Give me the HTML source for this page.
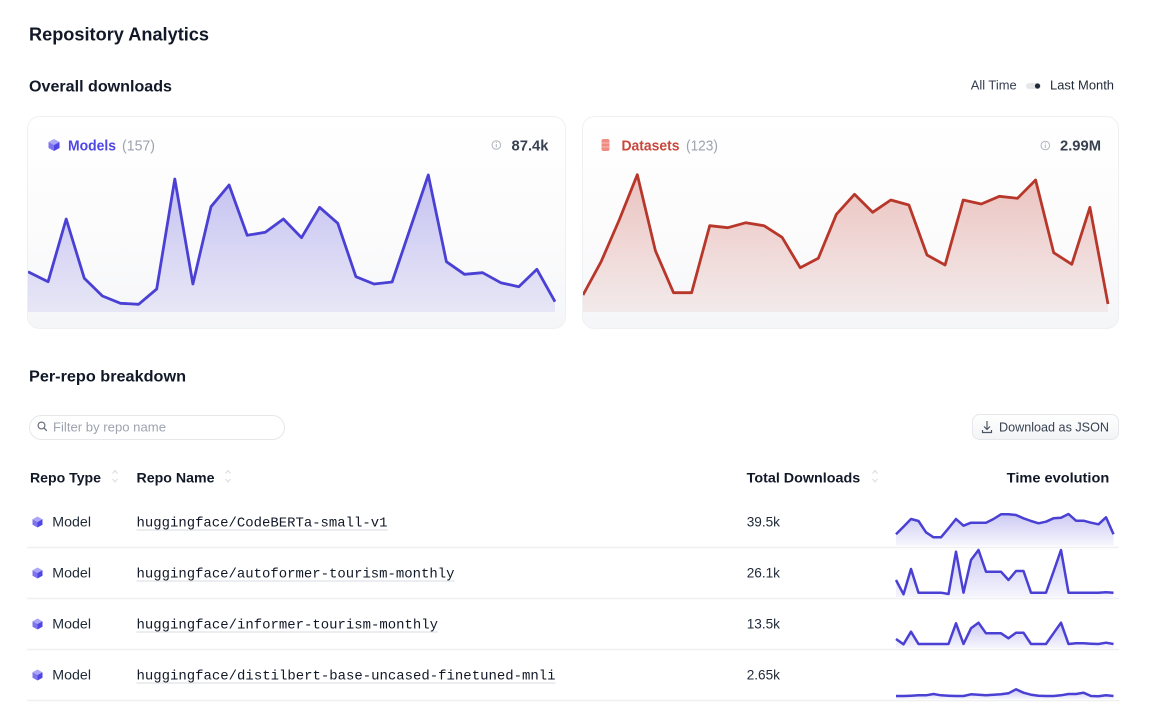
<!DOCTYPE html>
<html>
<head>
<meta charset="utf-8">
<style>
html,body{margin:0;padding:0;background:#fff;}
body{width:1152px;height:709px;overflow:hidden;}
svg{display:block;}
text{font-family:"Liberation Sans",sans-serif;}
.mono{font-family:"Liberation Mono",monospace;}
</style>
</head>
<body>
<svg width="1152" height="709" viewBox="0 0 1152 709" xmlns="http://www.w3.org/2000/svg">
<defs>
  <linearGradient id="cardbg" x1="0" y1="0" x2="0" y2="1">
    <stop offset="0" stop-color="#ffffff"/>
    <stop offset="0.6" stop-color="#fbfbfc"/>
    <stop offset="1" stop-color="#f5f6f8"/>
  </linearGradient>
  <linearGradient id="mfill" x1="0" y1="175" x2="0" y2="312" gradientUnits="userSpaceOnUse">
    <stop offset="0" stop-color="#4a40d4" stop-opacity="0.32"/>
    <stop offset="1" stop-color="#4a40d4" stop-opacity="0.09"/>
  </linearGradient>
  <linearGradient id="dfill" x1="0" y1="175" x2="0" y2="312" gradientUnits="userSpaceOnUse">
    <stop offset="0" stop-color="#bd3a2e" stop-opacity="0.30"/>
    <stop offset="1" stop-color="#bd3a2e" stop-opacity="0.07"/>
  </linearGradient>
  <linearGradient id="sfill" x1="0" y1="0" x2="0" y2="1">
    <stop offset="0" stop-color="#4a40d4" stop-opacity="0.28"/>
    <stop offset="1" stop-color="#4a40d4" stop-opacity="0.05"/>
  </linearGradient>
  <linearGradient id="btnbg" x1="0" y1="0" x2="0" y2="1">
    <stop offset="0" stop-color="#ffffff"/>
    <stop offset="1" stop-color="#f3f4f6"/>
  </linearGradient>
  <clipPath id="mclip"><rect x="28" y="117" width="537" height="211" rx="12"/></clipPath>
  <clipPath id="dclip"><rect x="583" y="117" width="535" height="211" rx="12"/></clipPath>
</defs>

<!-- Titles -->
<text x="29" y="40.5" font-size="18" font-weight="bold" fill="#111827" textLength="180" lengthAdjust="spacingAndGlyphs">Repository Analytics</text>
<text x="29" y="91.5" font-size="16" font-weight="bold" fill="#111827" textLength="143" lengthAdjust="spacingAndGlyphs">Overall downloads</text>

<!-- Toggle -->
<text x="970.7" y="89.5" font-size="13" fill="#374151" textLength="46" lengthAdjust="spacingAndGlyphs">All Time</text>
<rect x="1026" y="83" width="15" height="6" rx="3" fill="#e5e7eb"/>
<circle cx="1037.5" cy="86" r="2.6" fill="#1f2937"/>
<text x="1050" y="89.5" font-size="13" fill="#1f2937" textLength="64" lengthAdjust="spacingAndGlyphs">Last Month</text>

<!-- Models card -->
<rect x="27.5" y="116.5" width="538" height="212" rx="12" fill="url(#cardbg)" stroke="#eef0f3"/>
<g clip-path="url(#mclip)">
  <polygon fill="url(#mfill)" points="28,272.7 30,272.7 48.1,281.7 66.2,219 84.3,278.3 102.4,296 120.5,303.3 138.6,304.3 156.7,289 174.8,179 192.9,284 211,206.7 229.1,185 247.2,235.3 265.3,232.3 283.4,219 301.5,237.7 319.6,207.3 337.8,223.3 355.9,276.7 374,284 392.1,282 410.2,228.5 428.3,175 446.4,261.7 464.5,274.3 482.6,272.7 500.7,282.7 518.8,286.7 536.9,269.3 555,301.7 555,312 28,312"/>
  <polyline fill="none" stroke="#4a40d4" stroke-width="2.8" stroke-linejoin="round" points="28,271.7 30,272.7 48.1,281.7 66.2,219 84.3,278.3 102.4,296 120.5,303.3 138.6,304.3 156.7,289 174.8,179 192.9,284 211,206.7 229.1,185 247.2,235.3 265.3,232.3 283.4,219 301.5,237.7 319.6,207.3 337.8,223.3 355.9,276.7 374,284 392.1,282 410.2,228.5 428.3,175 446.4,261.7 464.5,274.3 482.6,272.7 500.7,282.7 518.8,286.7 536.9,269.3 555,301.7"/>
</g>
<!-- cube icon -->
<polygon points="54,139 59.5,142 54,145 48.5,142" fill="#aba6f5"/>
<polygon points="48.5,142 54,145 54,151 48.5,148" fill="#7d74ee"/>
<polygon points="54,145 59.5,142 59.5,148 54,151" fill="#4f46e5"/>
<text x="68" y="150.5" font-size="15" font-weight="bold" fill="#4f46e5" textLength="48" lengthAdjust="spacingAndGlyphs">Models</text>
<text x="122" y="150.5" font-size="15" fill="#9ca3af" textLength="33" lengthAdjust="spacingAndGlyphs">(157)</text>
<circle cx="496.3" cy="145" r="4.3" fill="none" stroke="#b0b5bd" stroke-width="1"/>
<line x1="496.3" y1="144" x2="496.3" y2="147.5" stroke="#b0b5bd" stroke-width="1"/>
<circle cx="496.3" cy="142.4" r="0.6" fill="#b0b5bd"/>
<text x="511.5" y="150.5" font-size="15" font-weight="bold" fill="#374151" textLength="37" lengthAdjust="spacingAndGlyphs">87.4k</text>

<!-- Datasets card -->
<rect x="582.5" y="116.5" width="536" height="212" rx="12" fill="url(#cardbg)" stroke="#eef0f3"/>
<g clip-path="url(#dclip)">
  <polygon fill="url(#dfill)" points="583,295 601.1,261.7 619.2,220 637.3,174.7 655.4,250.7 673.5,292.7 691.6,292.7 709.7,225.7 727.8,227.7 745.9,222.7 764,225.7 782.1,237.3 800.2,267.7 818.3,258.3 836.4,214.3 854.5,194.3 872.6,212.3 890.8,200 908.9,205 927,255 945.1,265 963.2,200 981.3,204 999.4,196.3 1017.5,198.3 1035.6,180 1053.7,252.7 1071.8,264.3 1089.9,207.3 1108,304 1108,312 583,312"/>
  <polyline fill="none" stroke="#b8372b" stroke-width="2.8" stroke-linejoin="round" points="583,295 601.1,261.7 619.2,220 637.3,174.7 655.4,250.7 673.5,292.7 691.6,292.7 709.7,225.7 727.8,227.7 745.9,222.7 764,225.7 782.1,237.3 800.2,267.7 818.3,258.3 836.4,214.3 854.5,194.3 872.6,212.3 890.8,200 908.9,205 927,255 945.1,265 963.2,200 981.3,204 999.4,196.3 1017.5,198.3 1035.6,180 1053.7,252.7 1071.8,264.3 1089.9,207.3 1108,304"/>
</g>
<!-- db icon -->
<rect x="601.5" y="139" width="8" height="12" rx="2" fill="#ee8c83"/>
<line x1="601.5" y1="143" x2="609.5" y2="143" stroke="#f8c9c4" stroke-width="0.8"/>
<line x1="601.5" y1="147" x2="609.5" y2="147" stroke="#f8c9c4" stroke-width="0.8"/>
<text x="621.5" y="150.5" font-size="15" font-weight="bold" fill="#c9473b" textLength="58" lengthAdjust="spacingAndGlyphs">Datasets</text>
<text x="686" y="150.5" font-size="15" fill="#9ca3af" textLength="32" lengthAdjust="spacingAndGlyphs">(123)</text>
<circle cx="1045.3" cy="145.5" r="4.3" fill="none" stroke="#b0b5bd" stroke-width="1"/>
<line x1="1045.3" y1="144.5" x2="1045.3" y2="148" stroke="#b0b5bd" stroke-width="1"/>
<circle cx="1045.3" cy="142.9" r="0.6" fill="#b0b5bd"/>
<text x="1060" y="150.5" font-size="15" font-weight="bold" fill="#374151" textLength="41" lengthAdjust="spacingAndGlyphs">2.99M</text>

<!-- Per-repo breakdown -->
<text x="29" y="381.5" font-size="16" font-weight="bold" fill="#111827" textLength="157" lengthAdjust="spacingAndGlyphs">Per-repo breakdown</text>

<!-- Search box -->
<rect x="29.5" y="415.5" width="255" height="24" rx="12" fill="#fff" stroke="#e5e7eb"/>
<circle cx="41.5" cy="425.5" r="3.4" fill="none" stroke="#6b7280" stroke-width="1.2"/>
<line x1="44" y1="428" x2="46.5" y2="430.5" stroke="#6b7280" stroke-width="1.3" stroke-linecap="round"/>
<text x="53" y="431.5" font-size="13" fill="#9ca3af" textLength="113" lengthAdjust="spacingAndGlyphs">Filter by repo name</text>

<!-- Download button -->
<rect x="972.5" y="414.5" width="146" height="25" rx="7" fill="url(#btnbg)" stroke="#e5e7eb"/>
<line x1="987" y1="421" x2="987" y2="429" stroke="#4b5563" stroke-width="1.2"/>
<polyline points="984,426.5 987,429.5 990,426.5" fill="none" stroke="#4b5563" stroke-width="1.2"/>
<polyline points="982.5,430 982.5,432.5 991.5,432.5 991.5,430" fill="none" stroke="#4b5563" stroke-width="1.2"/>
<text x="999" y="431.5" font-size="13" fill="#374151" textLength="110" lengthAdjust="spacingAndGlyphs">Download as JSON</text>

<!-- Table header -->
<text x="30" y="482.5" font-size="14" font-weight="bold" fill="#111827" textLength="71" lengthAdjust="spacingAndGlyphs">Repo Type</text>
<polyline points="112.5,473.5 115,470.5 117.5,473.5" fill="none" stroke="#d9dce1" stroke-width="1"/>
<polyline points="112.5,479 115,482 117.5,479" fill="none" stroke="#d9dce1" stroke-width="1"/>
<text x="136.5" y="482.5" font-size="14" font-weight="bold" fill="#111827" textLength="78" lengthAdjust="spacingAndGlyphs">Repo Name</text>
<polyline points="225.5,473.5 228,470.5 230.5,473.5" fill="none" stroke="#d9dce1" stroke-width="1"/>
<polyline points="225.5,479 228,482 230.5,479" fill="none" stroke="#d9dce1" stroke-width="1"/>
<text x="746.7" y="482.5" font-size="14" font-weight="bold" fill="#111827" textLength="113.5" lengthAdjust="spacingAndGlyphs">Total Downloads</text>
<polyline points="872.5,473.5 875,470.5 877.5,473.5" fill="none" stroke="#d9dce1" stroke-width="1"/>
<polyline points="872.5,479 875,482 877.5,479" fill="none" stroke="#d9dce1" stroke-width="1"/>
<text x="1006.7" y="482.5" font-size="14" font-weight="bold" fill="#111827" textLength="102.6" lengthAdjust="spacingAndGlyphs">Time evolution</text>

<!-- Row separators -->
<line x1="27" y1="547.5" x2="1119" y2="547.5" stroke="#eff0f2" stroke-width="1.5"/>
<line x1="27" y1="598.5" x2="1119" y2="598.5" stroke="#eff0f2" stroke-width="1.5"/>
<line x1="27" y1="649.5" x2="1119" y2="649.5" stroke="#eff0f2" stroke-width="1.5"/>
<line x1="27" y1="700.5" x2="1119" y2="700.5" stroke="#eff0f2" stroke-width="1.5"/>

<!-- Row cube icons -->
<g>
<polygon points="37.5,516.5 42.5,519.2 37.5,522 32.5,519.2" fill="#aba6f5"/>
<polygon points="32.5,519.2 37.5,522 37.5,527.5 32.5,524.8" fill="#7d74ee"/>
<polygon points="37.5,522 42.5,519.2 42.5,524.8 37.5,527.5" fill="#4f46e5"/>
</g>
<g transform="translate(0,51)">
<polygon points="37.5,516.5 42.5,519.2 37.5,522 32.5,519.2" fill="#aba6f5"/>
<polygon points="32.5,519.2 37.5,522 37.5,527.5 32.5,524.8" fill="#7d74ee"/>
<polygon points="37.5,522 42.5,519.2 42.5,524.8 37.5,527.5" fill="#4f46e5"/>
</g>
<g transform="translate(0,102)">
<polygon points="37.5,516.5 42.5,519.2 37.5,522 32.5,519.2" fill="#aba6f5"/>
<polygon points="32.5,519.2 37.5,522 37.5,527.5 32.5,524.8" fill="#7d74ee"/>
<polygon points="37.5,522 42.5,519.2 42.5,524.8 37.5,527.5" fill="#4f46e5"/>
</g>
<g transform="translate(0,153)">
<polygon points="37.5,516.5 42.5,519.2 37.5,522 32.5,519.2" fill="#aba6f5"/>
<polygon points="32.5,519.2 37.5,522 37.5,527.5 32.5,524.8" fill="#7d74ee"/>
<polygon points="37.5,522 42.5,519.2 42.5,524.8 37.5,527.5" fill="#4f46e5"/>
</g>

<!-- Row texts -->
<text x="52.3" y="526.5" font-size="14" fill="#1f2937" textLength="38.7" lengthAdjust="spacingAndGlyphs">Model</text>
<text x="52.3" y="577.5" font-size="14" fill="#1f2937" textLength="38.7" lengthAdjust="spacingAndGlyphs">Model</text>
<text x="52.3" y="628.5" font-size="14" fill="#1f2937" textLength="38.7" lengthAdjust="spacingAndGlyphs">Model</text>
<text x="52.3" y="679.5" font-size="14" fill="#1f2937" textLength="38.7" lengthAdjust="spacingAndGlyphs">Model</text>

<text class="mono" x="136.5" y="526.5" font-size="14" fill="#111827" textLength="251" lengthAdjust="spacingAndGlyphs">huggingface/CodeBERTa-small-v1</text>
<line x1="136.5" y1="530" x2="387.5" y2="530" stroke="#d8dbe0" stroke-width="1"/>
<text class="mono" x="136.5" y="577.5" font-size="14" fill="#111827" textLength="318" lengthAdjust="spacingAndGlyphs">huggingface/autoformer-tourism-monthly</text>
<line x1="136.5" y1="581" x2="454.5" y2="581" stroke="#d8dbe0" stroke-width="1"/>
<text class="mono" x="136.5" y="628.5" font-size="14" fill="#111827" textLength="301.5" lengthAdjust="spacingAndGlyphs">huggingface/informer-tourism-monthly</text>
<line x1="136.5" y1="632" x2="438" y2="632" stroke="#d8dbe0" stroke-width="1"/>
<text class="mono" x="136.5" y="679.5" font-size="14" fill="#111827" textLength="419" lengthAdjust="spacingAndGlyphs">huggingface/distilbert-base-uncased-finetuned-mnli</text>
<line x1="136.5" y1="683" x2="555.5" y2="683" stroke="#d8dbe0" stroke-width="1"/>

<text x="746.7" y="526.5" font-size="14" fill="#1f2937" textLength="33.3" lengthAdjust="spacingAndGlyphs">39.5k</text>
<text x="746.7" y="577.5" font-size="14" fill="#1f2937" textLength="33.3" lengthAdjust="spacingAndGlyphs">26.1k</text>
<text x="746.7" y="628.5" font-size="14" fill="#1f2937" textLength="33.3" lengthAdjust="spacingAndGlyphs">13.5k</text>
<text x="746.7" y="679.5" font-size="14" fill="#1f2937" textLength="33.3" lengthAdjust="spacingAndGlyphs">2.65k</text>

<!-- Sparklines -->
<polygon fill="url(#sfill)" points="896,534.3 903.5,526.7 911,519 918.5,521 926,532.3 933.5,537.3 941,537.3 948.5,528.3 956,519 963.5,525.7 971,522.7 978.5,522.7 986,522.7 993.5,519 1001,514.3 1008.5,514.3 1016,515 1023.5,518.3 1031,521 1038.5,523.3 1046,521.7 1053.5,518.3 1061,517.7 1068.5,514 1076,520.7 1083.5,520.7 1091,522.7 1098.5,524.3 1106,517.3 1113.5,534.3 1113.5,545.5 896,545.5"/>
<polyline fill="none" stroke="#4a40d4" stroke-width="2.5" stroke-linejoin="round" points="896,534.3 903.5,526.7 911,519 918.5,521 926,532.3 933.5,537.3 941,537.3 948.5,528.3 956,519 963.5,525.7 971,522.7 978.5,522.7 986,522.7 993.5,519 1001,514.3 1008.5,514.3 1016,515 1023.5,518.3 1031,521 1038.5,523.3 1046,521.7 1053.5,518.3 1061,517.7 1068.5,514 1076,520.7 1083.5,520.7 1091,522.7 1098.5,524.3 1106,517.3 1113.5,534.3"/>

<polygon fill="url(#sfill)" points="896,580 903.5,594.3 911,569 918.5,592.7 926,592.7 933.5,592.7 941,592.7 948.5,594 956,551.7 963.5,592.7 971,560 978.5,550 986,571.7 993.5,571.7 1001,571.7 1008.5,580 1016,571 1023.5,571 1031,592.7 1038.5,592.7 1046,592.7 1053.5,571.7 1061,550 1068.5,592.7 1076,592.7 1083.5,592.7 1091,592.7 1098.5,592.7 1106,592.3 1113.5,592.7 1113.5,597 896,597"/>
<polyline fill="none" stroke="#4a40d4" stroke-width="2.5" stroke-linejoin="round" points="896,580 903.5,594.3 911,569 918.5,592.7 926,592.7 933.5,592.7 941,592.7 948.5,594 956,551.7 963.5,592.7 971,560 978.5,550 986,571.7 993.5,571.7 1001,571.7 1008.5,580 1016,571 1023.5,571 1031,592.7 1038.5,592.7 1046,592.7 1053.5,571.7 1061,550 1068.5,592.7 1076,592.7 1083.5,592.7 1091,592.7 1098.5,592.7 1106,592.3 1113.5,592.7"/>

<polygon fill="url(#sfill)" points="896,639 903.5,644.3 911,631.7 918.5,644 926,644 933.5,644 941,644 948.5,644 956,623.3 963.5,644 971,628.3 978.5,622.7 986,633.3 993.5,633.3 1001,633.3 1008.5,638.3 1016,632.7 1023.5,632.7 1031,644 1038.5,644 1046,644 1053.5,633.3 1061,622.7 1068.5,644 1076,643.3 1083.5,643.3 1091,643.7 1098.5,644 1106,642.7 1113.5,644 1113.5,648 896,648"/>
<polyline fill="none" stroke="#4a40d4" stroke-width="2.5" stroke-linejoin="round" points="896,639 903.5,644.3 911,631.7 918.5,644 926,644 933.5,644 941,644 948.5,644 956,623.3 963.5,644 971,628.3 978.5,622.7 986,633.3 993.5,633.3 1001,633.3 1008.5,638.3 1016,632.7 1023.5,632.7 1031,644 1038.5,644 1046,644 1053.5,633.3 1061,622.7 1068.5,644 1076,643.3 1083.5,643.3 1091,643.7 1098.5,644 1106,642.7 1113.5,644"/>

<polygon fill="url(#sfill)" points="896,696 903.5,696 911,695.7 918.5,695.3 926,695.3 933.5,694 941,695.3 948.5,695.7 956,696 963.5,696 971,694.3 978.5,694.7 986,695.3 993.5,694.7 1001,694.3 1008.5,693.3 1016,689.3 1023.5,692.7 1031,694.7 1038.5,695.7 1046,696 1053.5,696 1061,695.3 1068.5,694 1076,694 1083.5,692.7 1091,696 1098.5,696.3 1106,695.3 1113.5,696 1113.5,699 896,699"/>
<polyline fill="none" stroke="#4a40d4" stroke-width="2.5" stroke-linejoin="round" points="896,696 903.5,696 911,695.7 918.5,695.3 926,695.3 933.5,694 941,695.3 948.5,695.7 956,696 963.5,696 971,694.3 978.5,694.7 986,695.3 993.5,694.7 1001,694.3 1008.5,693.3 1016,689.3 1023.5,692.7 1031,694.7 1038.5,695.7 1046,696 1053.5,696 1061,695.3 1068.5,694 1076,694 1083.5,692.7 1091,696 1098.5,696.3 1106,695.3 1113.5,696"/>
</svg>
</body>
</html>
